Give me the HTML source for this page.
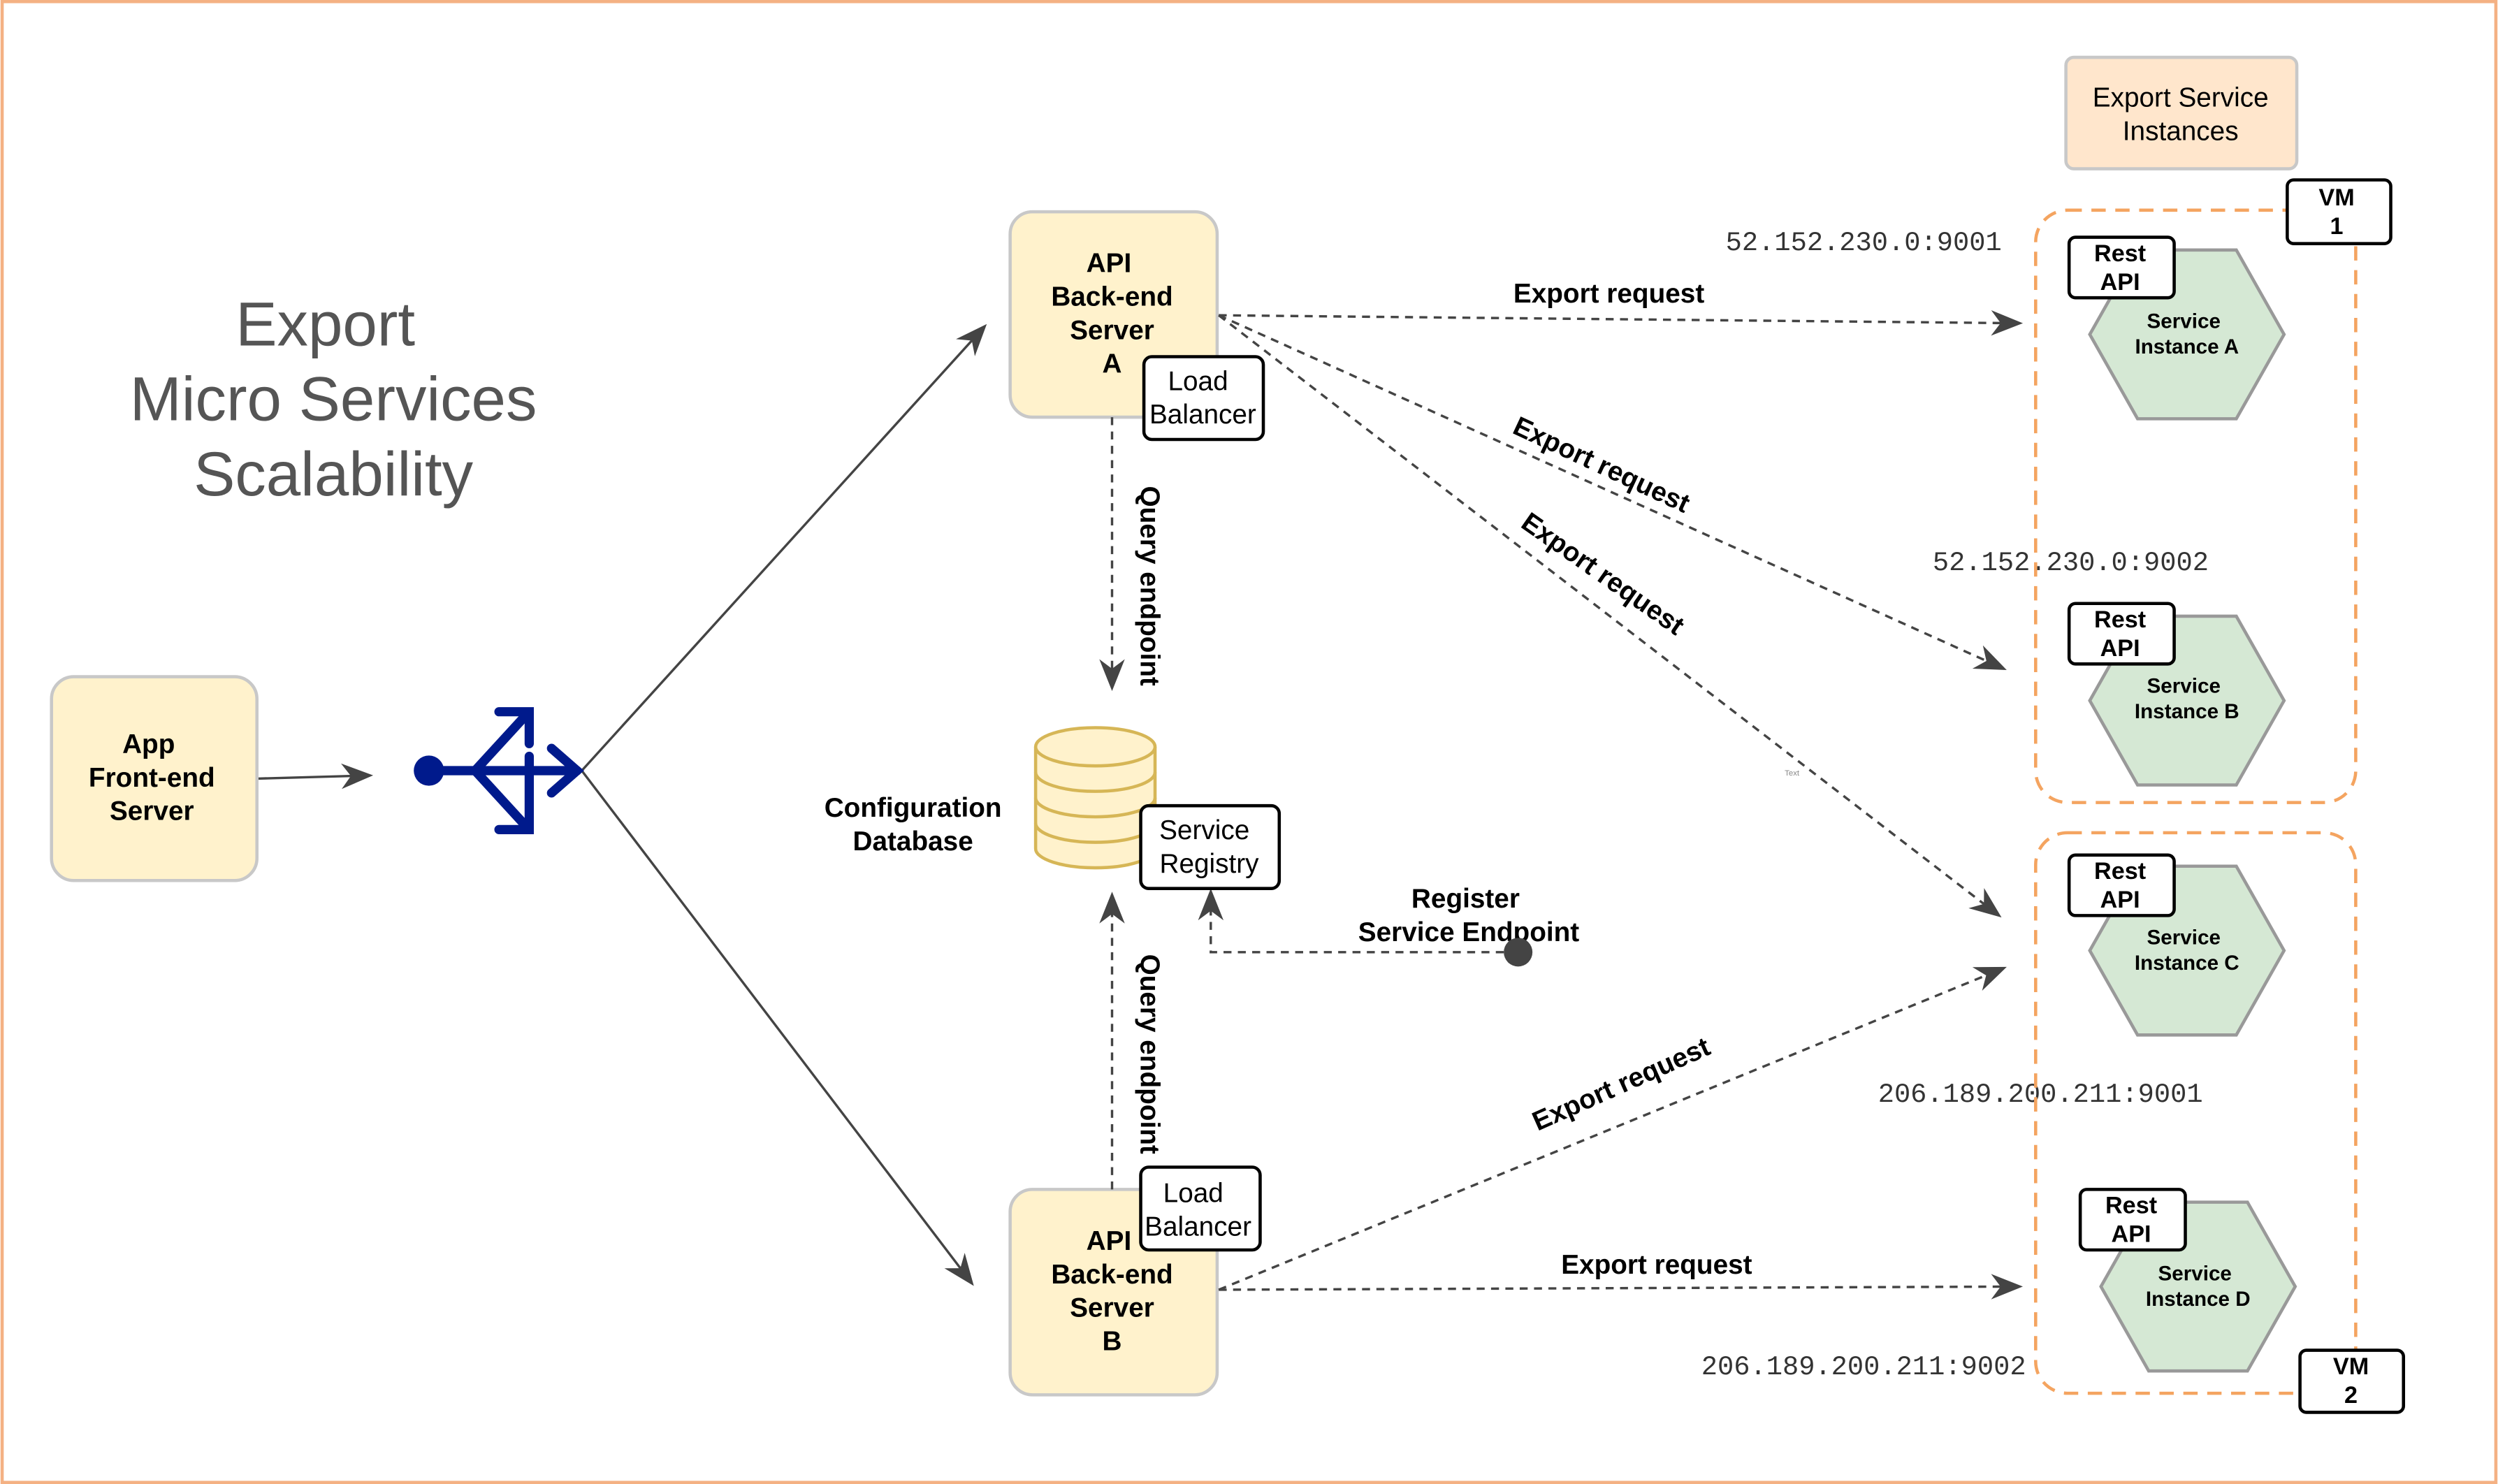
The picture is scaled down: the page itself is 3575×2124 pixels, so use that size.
<!DOCTYPE html>
<html><head><meta charset="utf-8"><style>html,body{margin:0;padding:0;background:#fff}svg{display:block}</style></head>
<body>
<svg width="3575" height="2124" viewBox="0 0 1568 932" xmlns="http://www.w3.org/2000/svg" font-family="Liberation Sans, sans-serif">
<defs>
<marker id="ahl" markerWidth="20" markerHeight="20" refX="18" refY="10" orient="auto" markerUnits="userSpaceOnUse" viewBox="0 0 20 20">
<path d="M0,2 L20,10 L0,18 L6,10 Z" fill="#444"/></marker>
</defs>
<rect x="1" y="1" width="1566" height="930" fill="#fff" stroke="#f4b183" stroke-width="2"/>
<g fill="#555" font-size="39" text-anchor="middle">
<text x="204" y="217">Export</text><text x="209" y="264">Micro Services</text><text x="209" y="311">Scalability</text></g>

<g stroke="#444" stroke-width="1.5" fill="none">
<line x1="161" y1="489" x2="232" y2="487" marker-end="url(#ahl)"/>
<line x1="365" y1="484" x2="618" y2="205" marker-end="url(#ahl)"/>
<line x1="365" y1="484" x2="610" y2="806" marker-end="url(#ahl)"/>
</g>
<g stroke="#001a8c" stroke-width="5.8" fill="none" stroke-linecap="round" stroke-linejoin="miter">
<line x1="269" y1="484" x2="362" y2="484"/>
<polyline points="346,470 362,484 346,498"/>
<polyline points="298,484 331,448"/>
<polyline points="298,484 331,520"/>
<polyline points="313,447 332,447 332,467"/>
<polyline points="313,521 332,521 332,475"/>
</g>
<circle cx="269" cy="484" r="9.5" fill="#001a8c"/>

<g fill="#fff2cc" stroke="#c8c8c8" stroke-width="2">
<rect x="32" y="425" width="129" height="128" rx="14"/>
<rect x="634" y="133" width="130" height="129" rx="14"/>
<rect x="634" y="747" width="130" height="129" rx="14"/>
</g>
<g font-size="17" font-weight="bold" text-anchor="middle" fill="#000">
<text x="93" y="473">App</text><text x="95" y="494">Front-end</text><text x="95" y="515">Server</text>
<text x="696" y="171">API</text><text x="698" y="192">Back-end</text><text x="698" y="213">Server</text><text x="698" y="234">A</text>
<text x="696" y="785">API</text><text x="698" y="806">Back-end</text><text x="698" y="827">Server</text><text x="698" y="848">B</text>
<text x="573" y="513">Configuration</text><text x="573" y="534">Database</text>
<text x="920" y="570">Register</text><text x="922" y="591">Service Endpoint</text>
<text x="1010" y="190">Export request</text>
<text x="1040" y="800">Export request</text>
<text transform="translate(1003,297) rotate(25)">Export request</text>
<text transform="translate(1003,365) rotate(35)">Export request</text>
<text transform="translate(1020,686) rotate(-24)">Export request</text>
<text transform="translate(716,368) rotate(90)">Query endpoint</text>
<text transform="translate(716,662) rotate(90)">Query endpoint</text>
</g>

<g fill="#fff2cc" stroke="#d6b656" stroke-width="2">
<path d="M650,469 L650,533 A37.5,12 0 0 0 725,533 L725,469"/>
<ellipse cx="687.5" cy="469" rx="37.5" ry="12"/>
<path d="M650,485 A37.5,12 0 0 0 725,485 M650,501 A37.5,12 0 0 0 725,501 M650,517 A37.5,12 0 0 0 725,517" fill="none"/>
</g>

<g stroke="#444" stroke-width="1.5" fill="none" stroke-dasharray="5,4">
<line x1="698" y1="262" x2="698" y2="432" marker-end="url(#ahl)"/>
<line x1="698" y1="747" x2="698" y2="562" marker-end="url(#ahl)"/>
<polyline points="953,598 760,598 760,560" marker-end="url(#ahl)"/>
<line x1="765" y1="198" x2="1268" y2="203" marker-end="url(#ahl)"/>
<line x1="765" y1="198" x2="1258" y2="420" marker-end="url(#ahl)"/>
<line x1="765" y1="198" x2="1255" y2="575" marker-end="url(#ahl)"/>
<line x1="765" y1="810" x2="1268" y2="808" marker-end="url(#ahl)"/>
<line x1="765" y1="810" x2="1258" y2="608" marker-end="url(#ahl)"/>
</g>
<circle cx="953" cy="598" r="9" fill="#444"/>

<g fill="#fff" stroke="#000" stroke-width="2">
<rect x="718" y="224" width="75" height="52" rx="5"/>
<rect x="716" y="733" width="75" height="52" rx="5"/>
<rect x="716" y="506" width="87" height="52" rx="5"/>
</g>
<g font-size="17" text-anchor="middle" fill="#000">
<text x="752" y="245">Load</text><text x="755" y="266">Balancer</text>
<text x="749" y="755">Load</text><text x="752" y="776">Balancer</text>
<text x="756" y="527">Service</text><text x="759" y="548">Registry</text>
</g>
<text x="1125" y="487" font-size="5" fill="#888" text-anchor="middle">Text</text>

<g font-family="Liberation Mono, monospace" font-size="17" fill="#333" text-anchor="middle">
<text x="1170" y="157">52.152.230.0:9001</text>
<text x="1300" y="358">52.152.230.0:9002</text>
<text x="1281" y="692">206.189.200.211:9001</text>
<text x="1170" y="863">206.189.200.211:9002</text>
</g>

<rect x="1297" y="36" width="145" height="70" rx="5" fill="#ffe6cc" stroke="#c8c8c8" stroke-width="2"/>
<text x="1369" y="67" font-size="17" text-anchor="middle">Export Service</text>
<text x="1369" y="88" font-size="17" text-anchor="middle">Instances</text>

<g fill="none" stroke="#f4a460" stroke-width="2" stroke-dasharray="9,6">
<rect x="1278" y="132" width="201" height="372" rx="20"/>
<rect x="1278" y="523" width="201" height="352" rx="20"/>
</g>

<g fill="#d5e8d4" stroke="#999" stroke-width="2">
<polygon points="1312,210 1342,157 1404,157 1434,210 1404,263 1342,263"/>
<polygon points="1312,440 1342,387 1404,387 1434,440 1404,493 1342,493"/>
<polygon points="1312,597 1342,544 1404,544 1434,597 1404,650 1342,650"/>
<polygon points="1319,808 1349,755 1411,755 1441,808 1411,861 1349,861"/>
</g>
<g font-size="13" font-weight="bold" text-anchor="middle">
<text x="1371" y="206">Service</text><text x="1373" y="222">Instance A</text>
<text x="1371" y="435">Service</text><text x="1373" y="451">Instance B</text>
<text x="1371" y="593">Service</text><text x="1373" y="609">Instance C</text>
<text x="1378" y="804">Service</text><text x="1380" y="820">Instance D</text>
</g>
<g fill="#fff" stroke="#000" stroke-width="2">
<rect x="1299" y="149" width="66" height="38" rx="4"/>
<rect x="1299" y="379" width="66" height="38" rx="4"/>
<rect x="1299" y="537" width="66" height="38" rx="4"/>
<rect x="1306" y="747" width="66" height="38" rx="4"/>
<rect x="1436" y="113" width="65" height="40" rx="4"/>
<rect x="1444" y="848" width="65" height="39" rx="4"/>
</g>
<g font-size="15" font-weight="bold" text-anchor="middle">
<text x="1331" y="164">Rest</text><text x="1331" y="182">API</text>
<text x="1331" y="394">Rest</text><text x="1331" y="412">API</text>
<text x="1331" y="552">Rest</text><text x="1331" y="570">API</text>
<text x="1338" y="762">Rest</text><text x="1338" y="780">API</text>
<text x="1467" y="129">VM</text><text x="1467" y="147">1</text>
<text x="1476" y="863">VM</text><text x="1476" y="881">2</text>
</g>
</svg>
</body></html>
